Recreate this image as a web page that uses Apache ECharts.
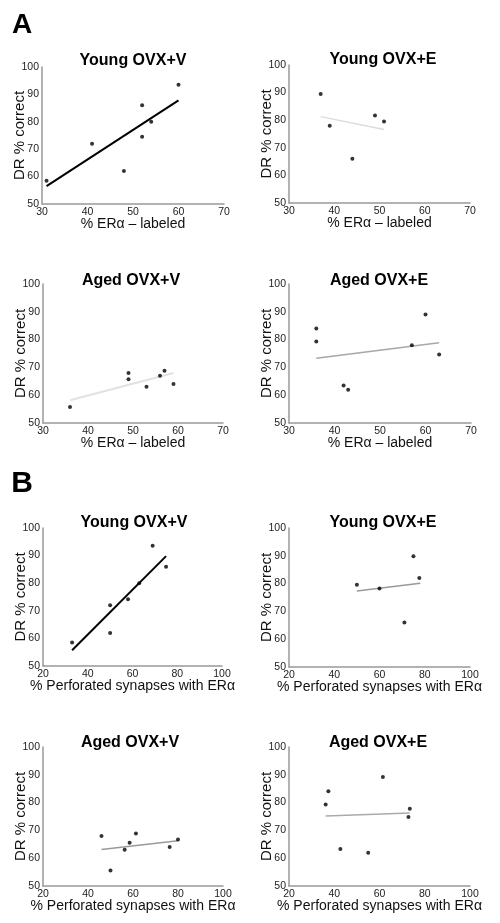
<!DOCTYPE html>
<html>
<head>
<meta charset="utf-8">
<script src="https://cdn.jsdelivr.net/npm/echarts@6/dist/echarts.min.js"></script>
<style>html,body{margin:0;padding:0;background:#fff}#c{width:500px;height:923px}</style>
</head>
<body>
<div id="c"></div>
<script>
// ---- Data ----
const panelTitles = ['Young OVX+V', 'Young OVX+E', 'Aged OVX+V', 'Aged OVX+E',
                     'Young OVX+V', 'Young OVX+E', 'Aged OVX+V', 'Aged OVX+E'];
const yAxisName = 'DR % correct';
const xAxisNameA = '% ERα – labeled';
const xAxisNameB = '% Perforated synapses with ERα';
const yRange = [50, 100, 10];
const xRangeA = [30, 70, 10];
const xRangeB = [20, 100, 20];

// Panel A: % ERα-labeled vs DR % correct
const A_youngV = [[31, 58.5], [41, 72], [48, 62], [52, 86], [52, 74.5], [54, 80], [60, 93.5]];
const A_youngE = [[37, 89.5], [39, 78], [44, 66], [49, 81.7], [51, 79.5]];
const A_agedV  = [[36, 55.8], [49, 68], [49, 65.7], [53, 63], [56, 67], [57, 68.8], [59, 64]];
const A_agedE  = [[36, 84], [36, 79.3], [42, 63.5], [43, 62], [57, 78], [60, 89], [63, 74.6]];
// Panel B: % perforated synapses with ERα vs DR % correct
const B_youngV = [[33, 58.5], [50, 72], [50, 62], [58, 74.2], [63, 80], [69, 93.6], [75, 86]];
const B_youngE = [[50, 79.6], [60, 78.2], [71, 66], [75, 89.8], [77.6, 82]];
const B_agedV  = [[46, 68], [50, 55.6], [56.3, 63], [58.5, 65.6], [61.3, 68.9], [76.3, 64], [80, 66.7]];
const B_agedE  = [[36.2, 79.3], [37.4, 84.1], [42.7, 63.3], [55, 62], [61.5, 89.2], [72.8, 74.8], [73.4, 77.8]];

// Regression line endpoints as drawn in the reference
const fitA_youngV = [[31, 56.5], [60, 87.8]];
const fitA_youngE = [[37, 81.3], [51, 76.6]];
const fitA_agedV  = [[36, 58.2], [59, 68]];
const fitA_agedE  = [[36, 73.3], [63, 78.9]];
const fitB_youngV = [[33, 55.7], [75, 89.8]];
const fitB_youngE = [[50, 77.3], [78, 80.1]];
const fitB_agedV  = [[46, 63.1], [80, 66.3]];
const fitB_agedE  = [[36.2, 75.2], [73.4, 76.3]];

const points = [A_youngV, A_youngE, A_agedV, A_agedE, B_youngV, B_youngE, B_agedV, B_agedE];
const fits = [fitA_youngV, fitA_youngE, fitA_agedV, fitA_agedE, fitB_youngV, fitB_youngE, fitB_agedV, fitB_agedE];

// ---- Layout / style ----
const FONT = '"Liberation Sans", Arial, Helvetica, sans-serif';
const grids = [
  {left: 42, top: 67, width: 182, height: 137},
  {left: 289, top: 65, width: 181, height: 138},
  {left: 43, top: 284, width: 180, height: 139},
  {left: 289, top: 284, width: 182, height: 139},
  {left: 43, top: 528, width: 179, height: 138},
  {left: 289, top: 528, width: 181, height: 139},
  {left: 43, top: 747, width: 180, height: 139},
  {left: 289, top: 747, width: 181, height: 139}
];
const titlePos = [[133, 61], [383, 60], [131, 281], [379, 281], [134, 523], [383, 523], [130, 743], [378, 743]];
const fitStyle = [
  {color: '#000', width: 2},
  {color: '#dcdcdc', width: 1.5},
  {color: '#e2e2e2', width: 2},
  {color: '#a8a8a8', width: 1.5},
  {color: '#000', width: 2},
  {color: '#999', width: 1.5},
  {color: '#999', width: 1.5},
  {color: '#aaa', width: 1.5}
];

const xAxes = [], yAxes = [], series = [], graphics = [];
for (let i = 0; i < 8; i++) {
  const isB = i >= 4;
  const xr = isB ? xRangeB : xRangeA;
  xAxes.push({
    gridIndex: i, type: 'value', min: xr[0], max: xr[1], interval: xr[2],
    name: isB ? xAxisNameB : xAxisNameA, nameLocation: 'middle', nameGap: 13.5,
    nameMoveOverlap: false,
    nameTextStyle: {fontFamily: FONT, fontSize: 14, color: '#111', verticalAlign: 'top'},
    axisLine: {show: true, lineStyle: {color: '#999', width: 1.5}},
    axisTick: {show: false}, splitLine: {show: false},
    axisLabel: {fontFamily: FONT, fontSize: 10.5, color: '#222', margin: 3}
  });
  yAxes.push({
    gridIndex: i, type: 'value', min: yRange[0], max: yRange[1], interval: yRange[2],
    name: yAxisName, nameLocation: 'middle', nameGap: 15, nameRotate: 90,
    nameMoveOverlap: false,
    nameTextStyle: {fontFamily: FONT, fontSize: 15, color: '#111'},
    axisLine: {show: true, lineStyle: {color: '#999', width: 1.5}},
    axisTick: {show: false}, splitLine: {show: false},
    axisLabel: {fontFamily: FONT, fontSize: 10.5, color: '#222', margin: 3}
  });
  series.push({
    type: 'line', xAxisIndex: i, yAxisIndex: i, data: fits[i],
    symbol: 'none', silent: true, z: 2,
    lineStyle: {color: fitStyle[i].color, width: fitStyle[i].width}
  });
  series.push({
    type: 'scatter', xAxisIndex: i, yAxisIndex: i, data: points[i],
    symbol: 'circle', symbolSize: 4, silent: true, z: 3,
    itemStyle: {color: '#000'}
  });
  graphics.push({
    type: 'text', x: titlePos[i][0], y: titlePos[i][1], silent: true,
    style: {text: panelTitles[i], fill: '#000', font: 'bold 16px ' + FONT,
            textAlign: 'center', textVerticalAlign: 'middle'}
  });
}
graphics.push({type: 'text', x: 22, y: 25, style: {text: 'A', fill: '#000', font: 'bold 28px ' + FONT, textAlign: 'center', textVerticalAlign: 'middle'}});
graphics.push({type: 'text', x: 22, y: 484, style: {text: 'B', fill: '#000', font: 'bold 30px ' + FONT, textAlign: 'center', textVerticalAlign: 'middle'}});

const chart = echarts.init(document.getElementById('c'), null, {renderer: 'canvas'});
chart.setOption({
  animation: false,
  backgroundColor: '#fff',
  grid: grids.map(g => Object.assign({containLabel: false}, g)),
  xAxis: xAxes,
  yAxis: yAxes,
  series: series,
  graphic: graphics
});
</script>
</body>
</html>
